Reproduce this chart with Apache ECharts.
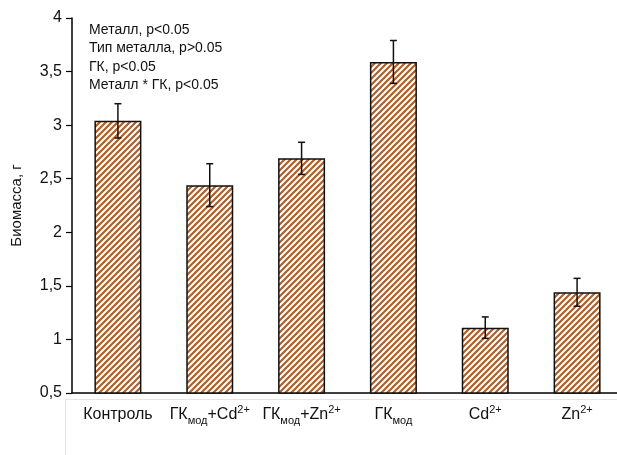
<!DOCTYPE html>
<html>
<head>
<meta charset="utf-8">
<script src="https://cdn.jsdelivr.net/npm/echarts@6/dist/echarts.min.js"></script>
<style>html,body{margin:0;padding:0;background:#fff;overflow:hidden;width:617px;height:455px;}#c{width:623px;height:455px;}</style>
</head>
<body>
<div id="c"></div>
<script>
const categories = [
  '{n|Контроль}',
  '{n|ГК}{sub|мод}{n|+Cd}{sup|2+}',
  '{n|ГК}{sub|мод}{n|+Zn}{sup|2+}',
  '{n|ГК}{sub|мод}',
  '{n|Cd}{sup|2+}',
  '{n|Zn}{sup|2+}'
];
const values = [3.04, 2.44, 2.69, 3.59, 1.11, 1.44];
const errors = [0.16, 0.20, 0.15, 0.20, 0.10, 0.13];
const yTicks = {min: 0.5, max: 4, interval: 0.5};
const yName = 'Биомасса, г';
const annotations = ['Металл, p<0.05', 'Тип металла, p>0.05', 'ГК, p<0.05', 'Металл * ГК, p<0.05'];

// hatch pattern
const tile = document.createElement('canvas');
tile.width = 6; tile.height = 6;
const g = tile.getContext('2d');
g.fillStyle = '#fff'; g.fillRect(0,0,6,6);
g.strokeStyle = '#AE5F2A'; g.lineWidth = 2.2;
g.beginPath();
g.moveTo(-1,7); g.lineTo(7,-1);
g.moveTo(-4,4); g.lineTo(4,-4);
g.moveTo(2,10); g.lineTo(10,2);
g.stroke();

const chart = echarts.init(document.getElementById('c'));
const errData = values.map((v,i)=>[i, v-errors[i], v+errors[i]]);
const FF = 'Liberation Sans';
chart.setOption({
  animation: false,
  grid: {left: 72, right: 0, top: 18, bottom: 62, containLabel: false},
  xAxis: {
    type: 'category', data: categories,
    axisLine: {lineStyle: {color: '#000', width: 1.5}},
    axisTick: {show: false},
    axisLabel: {
      margin: 11, interval: 0,
      rich: {
        n: {fontFamily: FF, fontSize: 16, color: '#111', lineHeight: 22},
        sub: {fontFamily: FF, fontSize: 11, color: '#111', verticalAlign: 'bottom', lineHeight: 19},
        sup: {fontFamily: FF, fontSize: 11, color: '#111', verticalAlign: 'top', lineHeight: 14}
      }
    }
  },
  yAxis: {
    type: 'value', min: yTicks.min, max: yTicks.max, interval: yTicks.interval,
    name: yName, nameLocation: 'middle', nameGap: 48, nameRotate: 90,
    nameTextStyle: {fontFamily: FF, fontSize: 15, color: '#111'},
    axisLine: {show: true, lineStyle: {color: '#000', width: 1.5}},
    axisTick: {show: true, length: 6, lineStyle: {color: '#000', width: 1.2}},
    splitLine: {show: false},
    axisLabel: {fontFamily: FF, fontSize: 16, color: '#111', margin: 10,
      formatter: v => String(v).replace('.', ',')}
  },
  graphic: [
    {type: 'polyline', silent: true, shape: {points: [[65.5, 455], [65.5, 399.5], [617, 399.5]]},
     style: {stroke: '#e6e6e6', lineWidth: 1, fill: null}},
    ...annotations.map((t,i)=>({type: 'text', left: 89, top: 23 + i*18.5,
      style: {text: t, fontFamily: FF, fontSize: 14, fill: '#111'}}))
  ],
  series: [
    {type: 'bar', data: values, barWidth: 47,
     itemStyle: {color: {image: tile, repeat: 'repeat'}, borderColor: '#111', borderWidth: 1.5}},
    {type: 'custom', data: errData, z: 10,
     renderItem: (params, api) => {
       const lo = api.coord([api.value(0), api.value(1)]);
       const hi = api.coord([api.value(0), api.value(2)]);
       const st = {stroke: '#111', lineWidth: 1.5};
       return {type: 'group', children: [
         {type: 'line', shape: {x1: lo[0], y1: lo[1], x2: hi[0], y2: hi[1]}, style: st},
         {type: 'line', shape: {x1: lo[0]-3.5, y1: lo[1], x2: lo[0]+3.5, y2: lo[1]}, style: st},
         {type: 'line', shape: {x1: hi[0]-3.5, y1: hi[1], x2: hi[0]+3.5, y2: hi[1]}, style: st}
       ]};
     }}
  ]
});
</script>
</body>
</html>
